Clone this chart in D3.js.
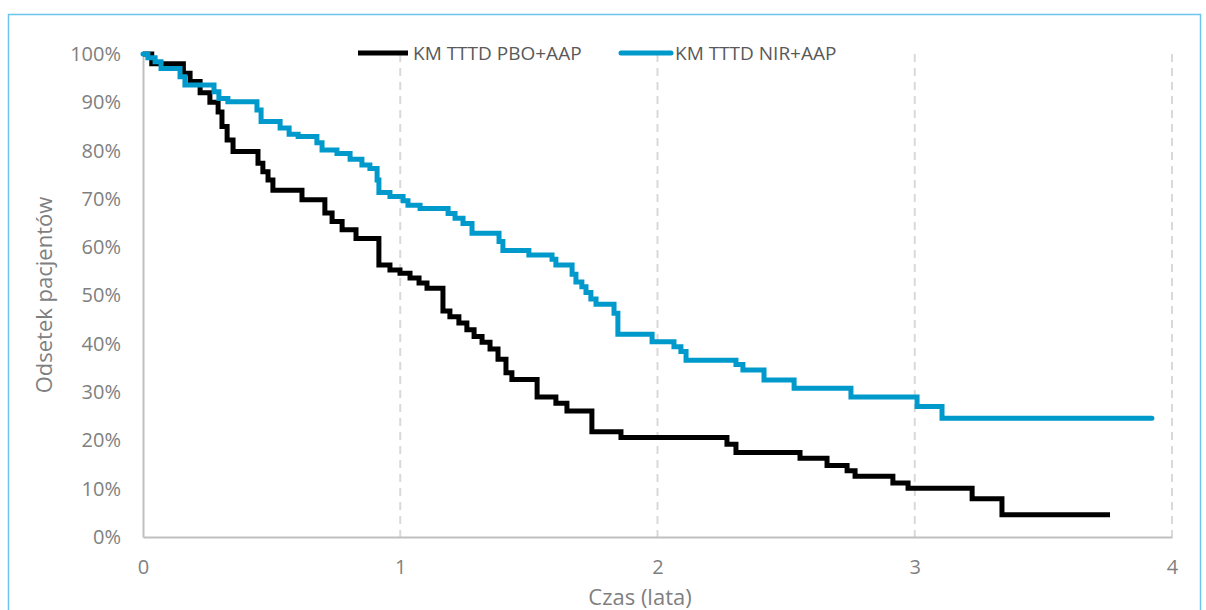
<!DOCTYPE html>
<html>
<head>
<meta charset="utf-8">
<script src="https://cdn.jsdelivr.net/npm/d3@7"></script>
<style>
  body { margin: 0; background: #fff; }
  svg { display: block; font-family: "Open Sans", sans-serif; }
</style>
</head>
<body>
<div id="chart"></div>
<script>
// KM curves: time in years, proportion in %
const pboTime = [0, 0.034, 0.157, 0.183, 0.222, 0.260, 0.292, 0.307, 0.327, 0.350, 0.447, 0.466, 0.486, 0.505,
  0.618, 0.707, 0.735, 0.774, 0.828, 0.917, 0.960, 0.999, 1.038, 1.073, 1.104, 1.166, 1.193, 1.228, 1.259,
  1.287, 1.318, 1.349, 1.380, 1.411, 1.434, 1.532, 1.605, 1.648, 1.745, 1.858, 2.270, 2.305, 2.554, 2.659,
  2.737, 2.768, 2.915, 2.974, 3.223, 3.339, 3.759];
const pboSurv = [100, 98, 96, 94.3, 92, 90, 88, 85, 82.2, 79.8, 77.4, 75.6, 73.9, 71.8,
  69.8, 67.1, 65.3, 63.6, 61.8, 56.3, 55.3, 54.6, 53.6, 52.6, 51.5, 46.8, 45.6, 44.3, 42.9,
  41.5, 40.3, 38.9, 36.8, 34.0, 32.6, 29.0, 27.7, 26.1, 21.8, 20.6, 19.2, 17.5, 16.3, 14.8,
  13.7, 12.6, 11.2, 10.1, 7.9, 4.6, 4.6];

const nirTime = [0, 0.019, 0.047, 0.070, 0.144, 0.163, 0.276, 0.295, 0.330, 0.443, 0.459, 0.533, 0.568, 0.603,
  0.676, 0.696, 0.754, 0.805, 0.851, 0.882, 0.910, 0.917, 0.960, 1.011, 1.030, 1.077, 1.186, 1.213, 1.244,
  1.279, 1.384, 1.399, 1.500, 1.590, 1.605, 1.668, 1.683, 1.706, 1.722, 1.741, 1.761, 1.831, 1.846, 1.979,
  2.064, 2.091, 2.111, 2.305, 2.332, 2.414, 2.531, 2.752, 3.009, 3.106, 3.922];
const nirSurv = [100, 99.2, 98.4, 97.0, 95.3, 93.6, 92.2, 90.8, 90.1, 88.4, 86.0, 84.7, 83.4, 82.9,
  81.6, 80.1, 79.4, 78.2, 77.0, 76.3, 73.9, 71.3, 70.5, 69.6, 68.7, 68.0, 67.0, 66.0, 64.9,
  62.9, 61.2, 59.3, 58.4, 57.5, 56.3, 54.4, 52.8, 51.8, 50.6, 49.3, 48.2, 46.3, 42.0, 40.4,
  39.4, 38.4, 36.6, 35.7, 34.6, 32.5, 30.8, 29.0, 27.0, 24.6, 24.6];

const seriesNames = ['KM TTTD PBO+AAP', 'KM TTTD NIR+AAP'];
const seriesColors = ['#000000', '#0099cc'];
const xTicks = [0, 1, 2, 3, 4];
const yTicks = [0, 10, 20, 30, 40, 50, 60, 70, 80, 90, 100];

const width = 1206, height = 610;
const svg = d3.select('#chart').append('svg')
  .attr('width', width)
  .attr('height', height);

// outer frame
svg.append('rect')
  .attr('x', 8.5).attr('y', 14.5)
  .attr('width', 1192).attr('height', 620)
  .attr('fill', 'none')
  .attr('stroke', '#6cc4ee')
  .attr('stroke-width', 1.5);

const x = d3.scaleLinear().domain([0, 4]).range([143, 1172]);
const y = d3.scaleLinear().domain([0, 100]).range([537, 54]);

// dashed vertical gridlines
svg.append('g')
  .selectAll('line')
  .data(xTicks.filter(d => d > 0))
  .join('line')
  .attr('x1', d => x(d)).attr('x2', d => x(d))
  .attr('y1', y(100)).attr('y2', y(0))
  .attr('stroke', '#d9d9d9')
  .attr('stroke-width', 2)
  .attr('stroke-dasharray', '8,6');

// y axis
const yAxis = svg.append('g')
  .attr('transform', `translate(${x(0)},0)`)
  .call(d3.axisLeft(y).tickValues(yTicks).tickSize(0).tickPadding(22).tickFormat(d => d + '%'));
yAxis.select('.domain').attr('stroke', '#bfbfbf').attr('stroke-width', 2);
yAxis.selectAll('text')
  .attr('fill', '#7f7f7f')
  .style('font-size', '20px')
  .style('font-family', '"Open Sans", sans-serif');

// x axis
const xAxis = svg.append('g')
  .attr('transform', `translate(0,${y(0)})`)
  .call(d3.axisBottom(x).tickValues(xTicks).tickSize(0).tickPadding(23).tickFormat(d3.format('d')));
xAxis.select('.domain').attr('stroke', '#bfbfbf').attr('stroke-width', 2);
xAxis.selectAll('text')
  .attr('fill', '#7f7f7f')
  .style('font-size', '20px')
  .style('font-family', '"Open Sans", sans-serif');

// axis titles
svg.append('text')
  .attr('x', 640).attr('y', 605)
  .attr('text-anchor', 'middle')
  .attr('fill', '#7f7f7f')
  .style('font-size', '22px')
  .text('Czas (lata)');

svg.append('text')
  .attr('transform', 'translate(52,295) rotate(-90)')
  .attr('text-anchor', 'middle')
  .attr('fill', '#7f7f7f')
  .style('font-size', '22px')
  .text('Odsetek pacjentów');

// curves
const line = d3.line()
  .x(d => x(d[0]))
  .y(d => y(d[1]))
  .curve(d3.curveStepAfter);

const pboData = pboTime.map((t, i) => [t, pboSurv[i]]);
const nirData = nirTime.map((t, i) => [t, nirSurv[i]]);

svg.append('path')
  .datum(pboData)
  .attr('d', line)
  .attr('fill', 'none')
  .attr('stroke', seriesColors[0])
  .attr('stroke-width', 5);

svg.append('path')
  .datum(nirData)
  .attr('d', line)
  .attr('fill', 'none')
  .attr('stroke', seriesColors[1])
  .attr('stroke-width', 5)
  .attr('stroke-linecap', 'round');

// legend
const legendX = [358, 621];
const legend = svg.append('g');
seriesNames.forEach((name, i) => {
  legend.append('line')
    .attr('x1', legendX[i]).attr('x2', legendX[i] + 50)
    .attr('y1', 53).attr('y2', 53)
    .attr('stroke', seriesColors[i])
    .attr('stroke-width', 5)
    .attr('stroke-linecap', i === 1 ? 'round' : 'butt');
  legend.append('text')
    .attr('x', legendX[i] + (i === 1 ? 54 : 55))
    .attr('y', 60)
    .attr('fill', '#595959')
    .style('font-size', '19px')
    .text(name);
});
</script>
</body>
</html>
